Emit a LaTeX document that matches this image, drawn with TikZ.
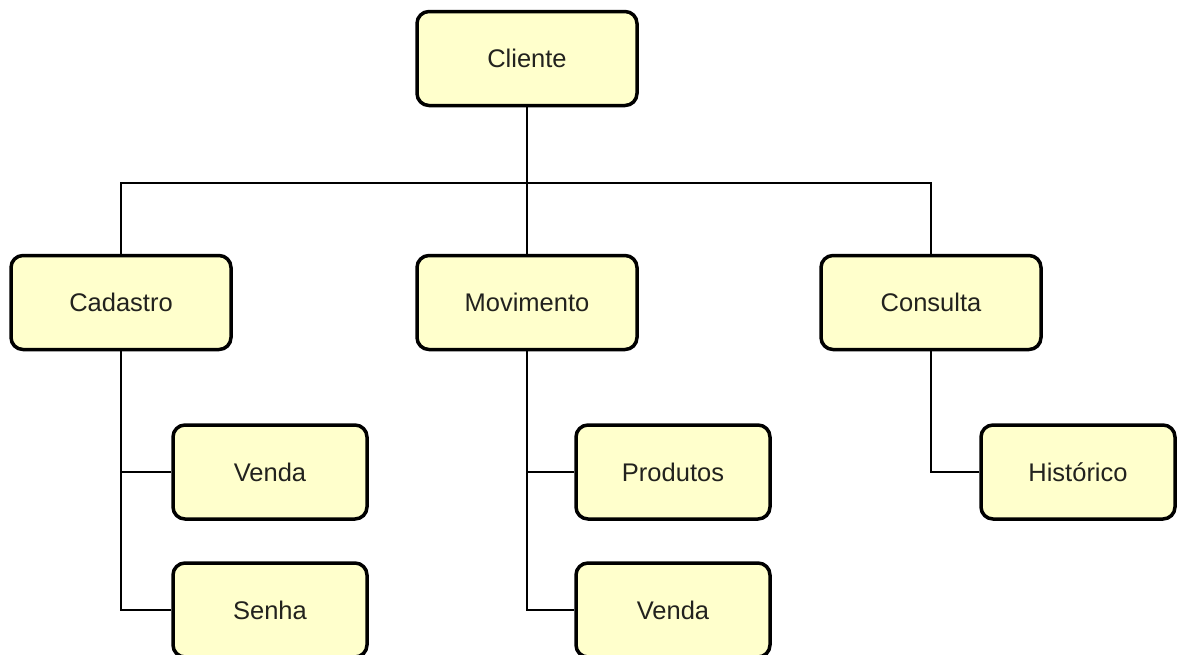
\documentclass[tikz,border=0pt]{standalone}
\usepackage{fontspec}
\setmainfont{Liberation Sans}
\definecolor{boxfill}{RGB}{255,255,204}
\definecolor{txt}{RGB}{34,34,30}
\begin{document}
\begin{tikzpicture}[x=1pt,y=-1pt,
  box/.style={draw=black,line width=3.5pt,fill=boxfill,rounded corners=12pt,
    minimum width=#1,minimum height=94pt,inner sep=0pt,
    font=\fontsize{25.5}{30}\selectfont,text=txt},
  box/.default=220pt,
  link/.style={draw=black,line width=1.3pt}]
\useasboundingbox (0,0) rectangle (1178,654);
\node[box] (cli) at (527,58.5) {Cliente};
\node[box] (cad) at (121,302.5) {Cadastro};
\node[box] (mov) at (527,302.5) {Movimento};
\node[box] (con) at (931,302.5) {Consulta};
\node[box=194pt] (ven1) at (270,472) {Venda};
\node[box=194pt] (sen) at (270,610) {Senha};
\node[box=194pt] (pro) at (673,472) {Produtos};
\node[box=194pt] (ven2) at (673,610) {Venda};
\node[box=194pt] (his) at (1078,472) {Histórico};
\coordinate (bus) at (527,183);
\draw[link] (cli.south) -- (mov.north);
\draw[link] (cad.north) |- (bus) -| (con.north);
\draw[link] (cad.south) |- (sen.west);
\draw[link] (cad.south |- ven1.west) -- (ven1.west);
\draw[link] (mov.south) |- (ven2.west);
\draw[link] (mov.south |- pro.west) -- (pro.west);
\draw[link] (con.south) |- (his.west);
\end{tikzpicture}
\end{document}
